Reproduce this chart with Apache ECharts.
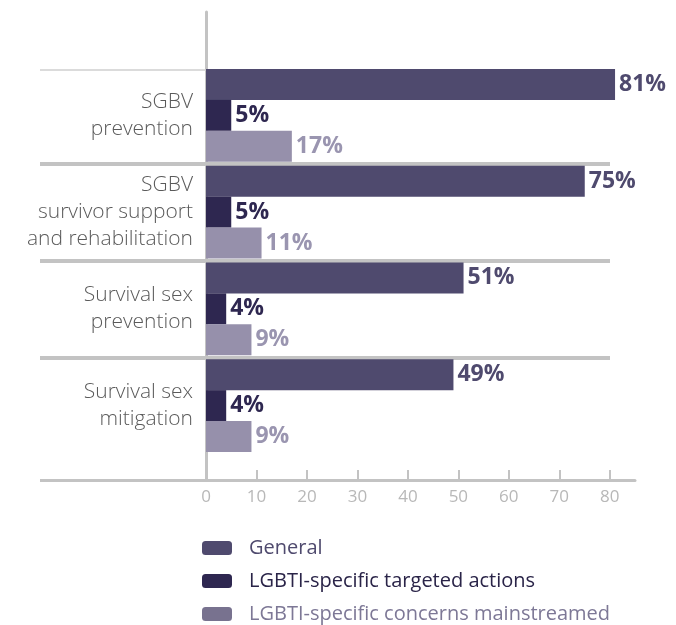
<!DOCTYPE html>
<html>
<head>
<meta charset="utf-8">
<script src="https://cdn.jsdelivr.net/npm/echarts@6/dist/echarts.min.js"></script>
<style>
  html, body { margin: 0; padding: 0; background: #ffffff; }
  #chart { width: 676px; height: 625px; }
</style>
</head>
<body>
<div id="chart"></div>
<script>
// ---- data ----
const categories = [
  'SGBV\nprevention',
  'SGBV\nsurvivor support\nand rehabilitation',
  'Survival sex\nprevention',
  'Survival sex\nmitigation'
];
const seriesNames = ['General', 'LGBTI-specific targeted actions', 'LGBTI-specific concerns mainstreamed'];
const generalValues = [81, 75, 51, 49];
const targetedValues = [5, 5, 4, 4];
const mainstreamedValues = [17, 11, 9, 9];
const xTickValues = [0, 10, 20, 30, 40, 50, 60, 70, 80];

// ---- styling ----
const barColors = ['#4f4a6e', '#2e2750', '#9690ab'];
const labelColors = ['#4f4a6e', '#2e2750', '#9a95b0'];
const legendIconColors = ['#4f4a6e', '#2e2750', '#78728f'];
const legendTextColors = ['#4f4a6e', '#2a2448', '#7d7896'];
const axisGrey = '#c3c3c3';
const FONT = '"Open Sans", Lato, sans-serif';

const chart = echarts.init(document.getElementById('chart'), null, { renderer: 'canvas' });

const separatorValues = categories.slice(1).map((_, i) => i + 1);

function barSeries(name, values, idx) {
  return {
    name: name,
    type: 'bar',
    xAxisIndex: 1,
    yAxisIndex: 1,
    data: values,
    clip: false,
    barGap: '0%',
    barCategoryGap: '4%',
    itemStyle: { color: barColors[idx] },
    label: {
      show: true,
      position: 'right',
      distance: 4,
      formatter: p => p.value + '%',
      color: labelColors[idx],
      fontFamily: FONT,
      fontWeight: 'bold',
      fontSize: 23
    },
    z: 3
  };
}

const option = {
  backgroundColor: '#ffffff',
  animation: false,
  grid: [
    { left: 206, right: 41, top: 12, bottom: 145 },   // frame grid with visible x axis
    { left: 206, right: 66, top: 67, bottom: 171 }    // bar grid
  ],
  xAxis: [
    {
      type: 'value', gridIndex: 0, min: 0, max: 85,
      axisLine: { show: true, onZero: false, lineStyle: { color: axisGrey, width: 3 } },
      axisTick: { show: true, inside: true, length: 10, customValues: xTickValues, lineStyle: { color: axisGrey, width: 2 } },
      axisLabel: { show: true, customValues: xTickValues, color: '#b8b8b8', fontFamily: FONT, fontSize: 17, margin: 9 },
      splitLine: { show: false }
    },
    {
      type: 'value', gridIndex: 1, min: 0, max: 80,
      axisLine: { show: false }, axisTick: { show: false }, axisLabel: { show: false }, splitLine: { show: false }
    }
  ],
  yAxis: [
    {
      type: 'value', gridIndex: 0, min: 0, max: 1, position: 'left',
      axisLine: { show: true, onZero: false, lineStyle: { color: axisGrey, width: 3 } },
      axisTick: { show: true, length: 166, customValues: [0], lineStyle: { color: axisGrey, width: 3 } },
      axisLabel: { show: false },
      splitLine: { show: false }
    },
    {
      type: 'category', gridIndex: 1, data: categories, inverse: true, position: 'left',
      axisLine: { show: false }, axisTick: { show: false }, splitLine: { show: false },
      axisLabel: {
        show: true, margin: 13, color: '#5a5a5a', fontFamily: FONT, fontWeight: 300,
        fontSize: 21, lineHeight: 27, align: 'right'
      }
    },
    {
      type: 'value', gridIndex: 1, min: 0, max: categories.length, inverse: true, position: 'left',
      axisLine: { show: false, onZero: false }, axisLabel: { show: false },
      axisTick: { show: true, length: 166, customValues: separatorValues, lineStyle: { color: axisGrey, width: 4 } },
      splitLine: { show: true, lineStyle: { color: axisGrey, width: 4 } }
    },
    {
      type: 'value', gridIndex: 1, min: 0, max: categories.length, inverse: true, position: 'left',
      axisLine: { show: false, onZero: false }, axisLabel: { show: false },
      axisTick: { show: true, length: 166, customValues: [0.03], lineStyle: { color: '#cfcfcf', width: 1.5 } },
      splitLine: { show: false }
    }
  ],
  legend: {
    orient: 'vertical',
    left: 202,
    top: 538,
    height: 140,
    width: 460,
    padding: 0,
    itemWidth: 30,
    itemHeight: 14,
    itemGap: 13,
    icon: 'roundRect',
    textStyle: { fontFamily: FONT, fontSize: 20, lineHeight: 20, padding: [0, 0, 0, 12] },
    data: seriesNames.map((n, i) => ({
      name: n,
      itemStyle: { color: legendIconColors[i] },
      textStyle: { color: legendTextColors[i] }
    }))
  },
  series: [
    barSeries(seriesNames[0], generalValues, 0),
    barSeries(seriesNames[1], targetedValues, 1),
    barSeries(seriesNames[2], mainstreamedValues, 2)
  ]
};

chart.setOption(option);
</script>
</body>
</html>
